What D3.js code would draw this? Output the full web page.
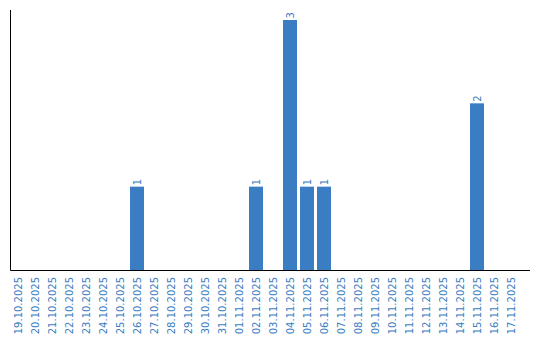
<!DOCTYPE html>
<html><head><meta charset="utf-8">
<script src="https://cdn.jsdelivr.net/npm/d3@7"></script>
<style>body{margin:0;background:#fff}</style>
</head><body>
<svg id="c" width="540" height="340"></svg>
<script>
const categories = ["19.10.2025","20.10.2025","21.10.2025","22.10.2025","23.10.2025","24.10.2025","25.10.2025","26.10.2025","27.10.2025","28.10.2025","29.10.2025","30.10.2025","31.10.2025","01.11.2025","02.11.2025","03.11.2025","04.11.2025","05.11.2025","06.11.2025","07.11.2025","08.11.2025","09.11.2025","10.11.2025","11.11.2025","12.11.2025","13.11.2025","14.11.2025","15.11.2025","16.11.2025","17.11.2025"];
const values = [0,0,0,0,0,0,0,1,0,0,0,0,0,0,1,0,3,1,1,0,0,0,0,0,0,0,0,2,0,0];

const color = "#3a7dc2";
const font = "DejaVu Sans, Verdana, sans-serif";
const svg = d3.select("#c");
const x = d3.scaleBand().domain(categories).range([11, 518]).paddingInner(3/17).paddingOuter(0);
const y = d3.scaleLinear().domain([0, 3]).range([270, 20]);

svg.append("g").selectAll("rect").data(categories).join("rect")
  .filter((d,i)=>values[i]>0)
  .attr("x", d=>x(d)).attr("width", x.bandwidth())
  .attr("y", d=>y(values[categories.indexOf(d)]))
  .attr("height", d=>y(0)-y(values[categories.indexOf(d)]))
  .attr("fill", color);

svg.append("g").selectAll("text").data(categories.map((c,i)=>({c,v:values[i]})).filter(d=>d.v>0)).join("text")
  .attr("transform", d=>`translate(${x(d.c)+x.bandwidth()/2+3.5},${y(d.v)-1.5}) rotate(-90)`)
  .attr("font-family",font).attr("font-size",10).attr("fill",color)
  .text(d=>d.v);

const xa = svg.append("g").attr("transform","translate(0,270)")
  .call(d3.axisBottom(x).tickSize(0).tickPadding(0));
xa.select(".domain").remove();
xa.attr("font-family",font).attr("font-size",10);
xa.selectAll("text")
  .attr("fill",color)
  .attr("text-anchor","end").attr("dy",null).attr("y",0)
  .attr("transform","translate(3.5,7) rotate(-90)");

svg.append("line").attr("x1",10.5).attr("x2",10.5).attr("y1",10).attr("y2",270.5).attr("stroke","#000");
svg.append("line").attr("x1",10.5).attr("x2",530).attr("y1",270.5).attr("y2",270.5).attr("stroke","#000");
</script>
</body></html>
